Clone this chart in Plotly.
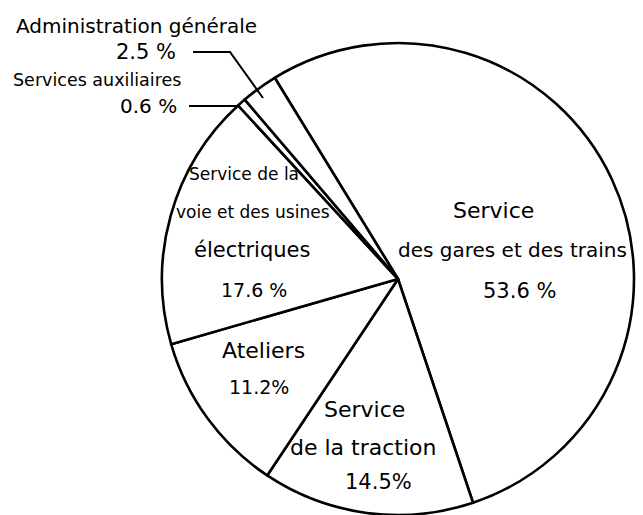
import plotly.graph_objects as go

# ---- data ----
categories = [
    "Service des gares et des trains",
    "Service de la traction",
    "Ateliers",
    "Service de la voie et des usines électriques",
    "Services auxiliaires",
    "Administration générale",
]
values = [53.6, 14.5, 11.2, 17.6, 0.6, 2.5]

# label lines (text only), and the percent format used on the drawing
label_lines = [
    ["Service", "des gares et des trains"],
    ["Service", "de la traction"],
    ["Ateliers"],
    ["Service de la", "voie et des usines", "électriques"],
    ["Services auxiliaires"],
    ["Administration générale"],
]
pct_fmt = ["{:.1f} %", "{:.1f}%", "{:.1f}%", "{:.1f} %", "{:.1f} %", "{:.1f} %"]

W, H = 643, 515
FONT = "DejaVu Sans"

# layout positions (pixel centres of each text line, top-left origin)
line_pos = [
    [(493, 210), (512, 250), (519, 291)],
    [(365, 409), (363, 447), (378, 482)],
    [(263, 350), (259, 387)],
    [(244, 174), (253, 212), (252, 250), (254, 290)],
    [(97, 80), (148, 106)],
    [(136, 26), (146, 52)],
]
font_sizes = [
    [22, 20, 21],
    [22, 22, 21],
    [22, 19],
    [17, 17, 21, 19],
    [17.5, 20],
    [20, 21],
]


def px(x):
    return x / W


def py(y):
    return 1 - y / H


fig = go.Figure(
    go.Pie(
        labels=categories,
        values=values,
        sort=False,
        direction="clockwise",
        rotation=-31.5,
        textinfo="none",
        hoverinfo="label+percent",
        marker=dict(colors=["white"] * len(values), line=dict(color="black", width=2.6)),
        domain=dict(x=[px(162), px(634)], y=[0, (H - 43) / H]),
        showlegend=False,
    )
)

annotations = []
for i, lines in enumerate(label_lines):
    texts = lines + [pct_fmt[i].format(values[i])]
    for t, (x, y), fs in zip(texts, line_pos[i], font_sizes[i]):
        annotations.append(
            dict(
                text=t,
                x=px(x),
                y=py(y),
                xref="paper",
                yref="paper",
                xanchor="center",
                yanchor="middle",
                showarrow=False,
                font=dict(family=FONT, size=fs, color="black"),
            )
        )

# leader lines for the two small slices
shapes = [
    dict(type="path", xref="paper", yref="paper",
         path=f"M {px(193)},{py(52)} L {px(230)},{py(52)} L {px(263)},{py(98)}",
         line=dict(color="black", width=2)),
    dict(type="line", xref="paper", yref="paper",
         x0=px(189), y0=py(106), x1=px(240), y1=py(106),
         line=dict(color="black", width=2)),
]

fig.update_layout(
    width=W,
    height=H,
    margin=dict(l=0, r=0, t=0, b=0),
    paper_bgcolor="white",
    plot_bgcolor="white",
    annotations=annotations,
    shapes=shapes,
)

fig.write_html(
    "out.html",
    config={"displayModeBar": False},
    post_script="document.body.style.margin='0px';document.body.style.overflow='hidden';",
)
